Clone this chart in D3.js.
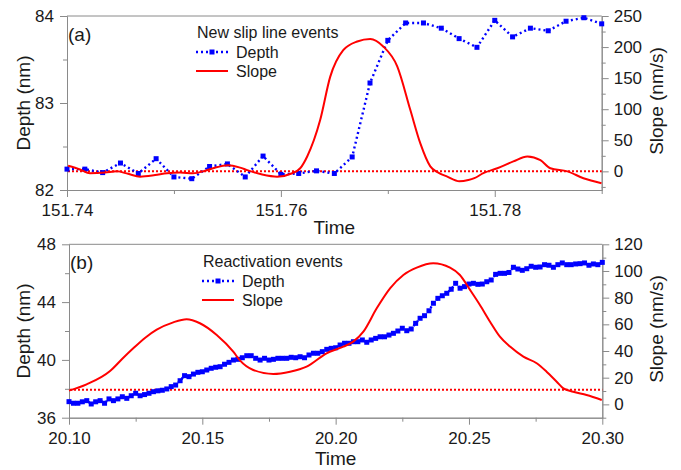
<!DOCTYPE html>
<html>
<head>
<meta charset="utf-8">
<script src="https://cdn.jsdelivr.net/npm/d3@7"></script>
<style>
  body { margin: 0; background: #fff; }
  svg { font-family: "Liberation Sans", Arial, sans-serif; }
</style>
</head>
<body>
<div class="chart"></div>
<script>
// ---- panel (a): new slip line events ----
const timeRangeA = [151.74, 151.79];
const depthA = [82.24, 82.24, 82.20, 82.31, 82.19, 82.36, 82.15, 82.13, 82.27, 82.30,
  82.15, 82.39, 82.18, 82.19, 82.22, 82.19, 82.38, 83.23, 83.72, 83.92,
  83.92, 83.86, 83.74, 83.64, 83.95, 83.76, 83.86, 83.83, 83.94, 83.98, 83.91];
const slopeTimeA = [151.7401, 151.74122, 151.74215, 151.74356, 151.74468, 151.74571, 151.74683,
  151.74824, 151.74936, 151.75058, 151.75179, 151.75292, 151.75366, 151.75507, 151.75619,
  151.75685, 151.75825, 151.75965, 151.76106, 151.76181, 151.76246, 151.76368, 151.76461,
  151.76583, 151.76714, 151.76836, 151.76957, 151.77088, 151.7721, 151.77304, 151.77397,
  151.77472, 151.77556, 151.77669, 151.77753, 151.77809, 151.77893, 151.78024, 151.78174,
  151.78305, 151.78427, 151.7852, 151.78679, 151.78829, 151.78998];
const slopeA = [9, 3, -3, -2, 0, -4, -8.5, -6, -3, -2, -3, 1, 5, 10, 6,
  2, -5, -8.5, -3, 5, 24, 83, 152, 195, 209, 213, 201, 169, 99, 45,
  8, -2, -8.5, -16, -14, -11, -3, 5, 16, 24, 18, 5, 0, -11, -19];
const xTicksA = [151.74, 151.76, 151.78];
const xMinorA = [151.75, 151.77, 151.79];
const depthTicksA = [82, 83, 84];
const depthMinorA = [82.5, 83.5];
const slopeTicksA = [0, 50, 100, 150, 200, 250];
const slopeMinorA = [-25, 25, 75, 125, 175, 225];

// ---- panel (b): reactivation events ----
const timeRangeB = [20.10, 20.30];
const depthB = [37.11, 37.0, 37.0, 37.1, 37.18, 36.95, 37.1, 37.18, 37.0, 37.3,
  37.18, 37.3, 37.45, 37.34, 37.52, 37.69, 37.52, 37.6, 37.69, 37.8,
  37.86, 37.9, 37.99, 38.15, 38.26, 38.56, 38.91, 38.84, 39.02, 39.14,
  39.18, 39.3, 39.42, 39.49, 39.53, 39.7, 39.83, 39.99, 40.04, 40.15,
  40.29, 40.29, 40.11, 39.99, 40.11, 39.99, 40.04, 40.11, 40.11, 40.11,
  40.18, 40.15, 40.22, 40.15, 40.34, 40.46, 40.46, 40.57, 40.73, 40.8,
  40.84, 41.03, 41.15, 41.15, 41.26, 41.26, 41.38, 41.22, 41.38, 41.49,
  41.6, 41.6, 41.72, 41.84, 42.0, 42.19, 42.02, 42.14, 42.53, 42.88,
  43.06, 43.4, 43.92, 44.26, 44.44, 44.61, 44.89, 45.3, 44.96, 45.07,
  45.25, 45.3, 45.23, 45.25, 45.41, 45.53, 45.92, 45.99, 45.99, 46.05,
  46.41, 46.29, 46.2, 46.31, 46.48, 46.41, 46.43, 46.59, 46.55, 46.41,
  46.59, 46.71, 46.59, 46.59, 46.64, 46.66, 46.71, 46.55, 46.64, 46.59, 46.75];
const slopeTimeB = [20.1, 20.1066, 20.1154, 20.1199, 20.1241, 20.1286, 20.1329, 20.1391,
  20.1441, 20.1491, 20.1554, 20.1616, 20.1641, 20.1691, 20.1766, 20.1829, 20.1891,
  20.1966, 20.2029, 20.2066, 20.2104, 20.2154, 20.2204, 20.2254, 20.2304, 20.2366,
  20.2429, 20.2466, 20.2504, 20.2541, 20.2579, 20.2616, 20.2654, 20.2704, 20.2754,
  20.2791, 20.2829, 20.2854, 20.2891, 20.2941, 20.2998];
const slopeB = [10.3, 15, 25, 34, 42, 50, 56, 61.5, 63.8, 60.8, 52, 39.5, 33, 25.8,
  22.8, 24.5, 28.3, 38.3, 43.3, 47, 54.5, 72, 87, 97, 102.5, 105.8, 102.5, 97,
  85.8, 74.5, 62, 50.8, 43.3, 35.8, 30.8, 24.5, 17, 12, 9.5, 7, 3.3];
const xTicksB = [20.10, 20.15, 20.20, 20.25, 20.30];
const xMinorB = [20.125, 20.175, 20.225, 20.275];
const depthTicksB = [36, 40, 44, 48];
const depthMinorB = [38, 42, 46];
const slopeTicksB = [0, 20, 40, 60, 80, 100, 120];
const slopeMinorB = [-10, 10, 30, 50, 70, 90, 110];

const width = 681, height = 470;
const axisColor = "#8a8a8a";
const blue = "#0000ff", red = "#ff0000";

const svg = d3.select(".chart").append("svg")
  .attr("width", width)
  .attr("height", height);

function drawPanel(p) {
  const x = d3.scaleLinear().domain(p.timeRange).range([p.left, p.right]);
  const yD = d3.scaleLinear().domain(p.depthDomain).range([p.bottom, p.top]);
  const yS = d3.scaleLinear().domain(p.slopeDomain).range([p.bottom, p.top]);
  const idx = d3.scaleLinear().domain([0, p.depth.length - 1]).range(p.timeRange);
  const g = svg.append("g");

  const styleAxis = a => {
    a.selectAll(".domain, line").attr("stroke", axisColor);
    a.selectAll("text").attr("fill", "#1a1a1a").style("font-size", "17px");
  };

  // top frame edge
  g.append("line")
    .attr("x1", p.left).attr("x2", p.right)
    .attr("y1", p.top).attr("y2", p.top)
    .attr("stroke", axisColor);

  // minor ticks first
  g.append("g").attr("transform", `translate(0,${p.bottom})`)
    .call(d3.axisBottom(x).tickValues(p.xMinor).tickFormat("").tickSize(4).tickSizeOuter(0))
    .call(styleAxis);
  g.append("g").attr("transform", `translate(${p.left},0)`)
    .call(d3.axisLeft(yD).tickValues(p.depthMinor).tickFormat("").tickSize(4).tickSizeOuter(0))
    .call(styleAxis);
  g.append("g").attr("transform", `translate(${p.right},0)`)
    .call(d3.axisRight(yS).tickValues(p.slopeMinor).tickFormat("").tickSize(4).tickSizeOuter(0))
    .call(styleAxis);

  // major ticks
  g.append("g").attr("transform", `translate(0,${p.bottom})`)
    .call(d3.axisBottom(x).tickValues(p.xTicks).tickFormat(d3.format(p.xFmt))
      .tickSize(7).tickPadding(7).tickSizeOuter(0))
    .call(styleAxis);
  g.append("g").attr("transform", `translate(${p.left},0)`)
    .call(d3.axisLeft(yD).tickValues(p.depthTicks).tickFormat(d3.format("d"))
      .tickSize(7).tickPadding(6).tickSizeOuter(0))
    .call(styleAxis);
  g.append("g").attr("transform", `translate(${p.right},0)`)
    .call(d3.axisRight(yS).tickValues(p.slopeTicks).tickFormat(d3.format("d"))
      .tickSize(7).tickPadding(5).tickSizeOuter(0))
    .call(styleAxis);

  // axis titles
  g.append("text")
    .attr("x", (p.left + p.right) / 2).attr("y", p.bottom + p.timeOffset)
    .attr("text-anchor", "middle").style("font-size", "19px").attr("fill", "#1a1a1a")
    .text("Time");
  g.append("text")
    .attr("transform", `translate(30,${(p.top + p.bottom) / 2}) rotate(-90)`)
    .attr("text-anchor", "middle").style("font-size", "19px").attr("fill", "#1a1a1a")
    .text("Depth (nm)");
  g.append("text")
    .attr("transform", `translate(663,${(p.top + p.bottom) / 2 - 2}) rotate(-90)`)
    .attr("text-anchor", "middle").style("font-size", "19px").attr("fill", "#1a1a1a")
    .text("Slope (nm/s)");

  // reference line
  g.append("line")
    .attr("x1", p.left + 1).attr("x2", p.right)
    .attr("y1", yS(p.refSlope)).attr("y2", yS(p.refSlope))
    .attr("stroke", red).attr("stroke-width", 2).attr("stroke-dasharray", "2,2");

  // depth series
  const depthPts = p.depth.map((d, i) => [idx(i), d]);
  g.append("path")
    .datum(depthPts)
    .attr("fill", "none")
    .attr("stroke", blue).attr("stroke-width", 2.4).attr("stroke-dasharray", "2,3")
    .attr("d", d3.line().x(d => x(d[0])).y(d => yD(d[1])));
  g.selectAll(".mk")
    .data(depthPts)
    .enter()
    .append("rect")
    .attr("x", d => x(d[0]) - 2.5).attr("y", d => yD(d[1]) - 2.5)
    .attr("width", 5).attr("height", 5)
    .attr("fill", blue);

  // slope series
  g.append("path")
    .datum(p.slopeTime.map((t, i) => [t, p.slope[i]]))
    .attr("fill", "none")
    .attr("stroke", red).attr("stroke-width", 2)
    .attr("d", d3.line().x(d => x(d[0])).y(d => yS(d[1])).curve(d3.curveMonotoneX));

  // panel label
  g.append("text")
    .attr("x", p.left + 1).attr("y", p.top + 25)
    .style("font-size", "19px").attr("fill", "#1a1a1a")
    .text(p.label);

  // legend
  const lg = g.append("g").attr("transform", `translate(${p.legendX},${p.legendY})`);
  lg.append("text").attr("x", 1).attr("y", 0).style("font-size", "16px").attr("fill", "#1a1a1a")
    .text(p.title);
  lg.append("line").attr("x1", 0).attr("x2", p.legendLen).attr("y1", 14).attr("y2", 14)
    .attr("stroke", blue).attr("stroke-width", 2.4).attr("stroke-dasharray", "2,3");
  lg.append("rect").attr("x", p.legendLen / 2 - 2.5).attr("y", 11.5).attr("width", 5).attr("height", 5)
    .attr("fill", blue);
  lg.append("text").attr("x", p.legendLen + 8).attr("y", 20).style("font-size", "16px").attr("fill", "#1a1a1a")
    .text("Depth");
  lg.append("line").attr("x1", 0).attr("x2", p.legendLen).attr("y1", 33).attr("y2", 33)
    .attr("stroke", red).attr("stroke-width", 2);
  lg.append("text").attr("x", p.legendLen + 8).attr("y", 39).style("font-size", "16px").attr("fill", "#1a1a1a")
    .text("Slope");
}

drawPanel({
  left: 67, right: 601.7, top: 16, bottom: 190,
  timeRange: timeRangeA, depthDomain: [82, 84], slopeDomain: [-30, 250],
  depth: depthA, slopeTime: slopeTimeA, slope: slopeA,
  xTicks: xTicksA, xMinor: xMinorA, xFmt: ".2f",
  depthTicks: depthTicksA, depthMinor: depthMinorA,
  slopeTicks: slopeTicksA, slopeMinor: slopeMinorA,
  refSlope: 0, label: "(a)", title: "New slip line events",
  legendX: 196, legendY: 38, legendLen: 32, timeOffset: 44
});

drawPanel({
  left: 69, right: 602.3, top: 244.3, bottom: 417.7,
  timeRange: timeRangeB, depthDomain: [36, 48], slopeDomain: [-10, 120],
  depth: depthB, slopeTime: slopeTimeB, slope: slopeB,
  xTicks: xTicksB, xMinor: xMinorB, xFmt: ".2f",
  depthTicks: depthTicksB, depthMinor: depthMinorB,
  slopeTicks: slopeTicksB, slopeMinor: slopeMinorB,
  refSlope: 11, label: "(b)", title: "Reactivation events",
  legendX: 202, legendY: 267, legendLen: 32, timeOffset: 47
});
</script>
</body>
</html>
